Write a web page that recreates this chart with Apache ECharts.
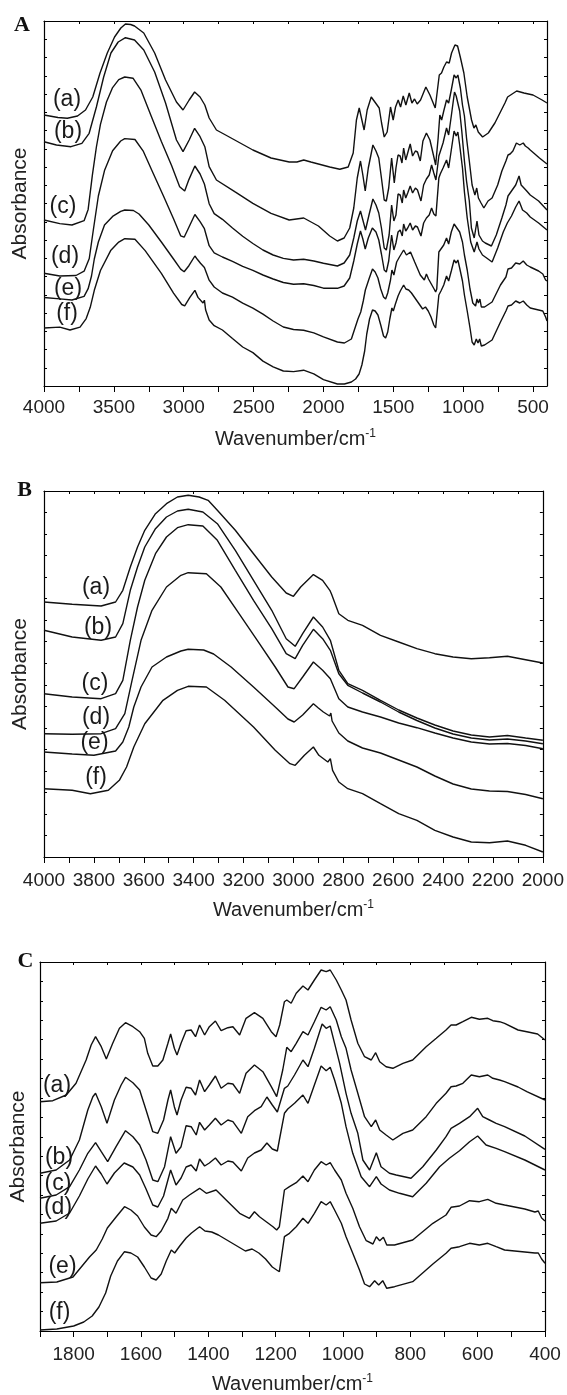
<!DOCTYPE html>
<html><head><meta charset="utf-8">
<script src="https://cdn.jsdelivr.net/npm/echarts@6/dist/echarts.min.js"></script>
<style>html,body{margin:0;padding:0;background:#fff}#c{width:567px;height:1395px}</style>
</head><body><div id="c"></div>
<script>
const curveNames = ['(a)','(b)','(c)','(d)','(e)','(f)'];
const panelNames = ['A','B','C'];

// Panel A: 4000-400 cm-1 (absorbance in arbitrary units)
const A_a = [[4000,271],[3900,268.5],[3833,267.7],[3760,270],[3703,276],[3651,289],[3599,313],[3547,333],[3495,349],[3450,358],[3417,362],[3380,361.5],[3352,360],[3286,353],[3208,333],[3130,306],[3052,284],[3005,276],[2961,286],[2922,294],[2883,289],[2849,281],[2818,268],[2766,256],[2700,251],[2635,246],[2505,236],[2375,228],[2245,224],[2190,224],[2141,226],[2090,224],[2036,222],[1955,219],[1883,216.7],[1823,219],[1787,233],[1764,266],[1744,278],[1725,266],[1709,256],[1687,276],[1658,289],[1632,284],[1601,278],[1584,263],[1565,249],[1544,254],[1520,279],[1501,266],[1484,279],[1465,286],[1448,279],[1429,290],[1410,281],[1386,293],[1367,283],[1348,287],[1329,282],[1305,286],[1267,299],[1238,291],[1200,278],[1171,311],[1155,313],[1138,319],[1119,324],[1100,323],[1083,333],[1059,341],[1040,340],[1019,328],[995,313],[971,289],[940,266],[923,258],[909,261],[892,254],[861,249],[820,253],[773,263],[701,283],[682,289],[617,295],[565,293],[500,291],[435,286],[400,283]];
const A_b = [[4000,244.3],[3911,241],[3807,239.3],[3729,242.7],[3677,252.7],[3625,279],[3573,309],[3521,333],[3469,344],[3417,348.3],[3352,346],[3286,336],[3208,314],[3130,283],[3052,246],[3005,234.3],[2961,246],[2922,257.7],[2883,249.3],[2849,239.3],[2818,219.3],[2766,206],[2635,194.3],[2505,182.7],[2375,172.7],[2245,166],[2141,168],[2036,160],[1955,150],[1900,145],[1852,148],[1812,158],[1783,178],[1758,208],[1735,225],[1718,211],[1701,195],[1679,218],[1646,241],[1624,235],[1604,228],[1585,208],[1565,186],[1550,185],[1533,198],[1512,228],[1493,203],[1481,218],[1466,231],[1451,230],[1438,223],[1426,238],[1411,226],[1397,233],[1379,242],[1362,230],[1342,235],[1327,234],[1307,225],[1288,245],[1263,253],[1238,246],[1213,231],[1197,221],[1179,248],[1167,271],[1154,266],[1139,275],[1119,286],[1104,283],[1085,296],[1065,311],[1050,308],[1038,311],[1020,298],[1005,281],[991,270],[976,248],[956,225],[936,201],[916,191],[903,198],[891,188],[872,183],[852,178],[822,185],[793,188],[753,201],[723,215],[694,225],[679,231],[664,232],[644,235],[619,243],[595,241],[570,243],[555,240],[535,238],[520,236],[454,228],[400,222]];
const A_c = [[4000,166],[3887,162.4],[3800,161],[3713,165.3],[3684,176.6],[3654,210.6],[3625,239],[3596,261.6],[3553,284],[3509,298.4],[3465,306.4],[3422,309],[3363,307.8],[3305,295.6],[3233,270],[3160,244.6],[3087,220.5],[3029,199.3],[2993,195],[2963,206.4],[2920,220],[2883,212],[2852,202],[2818,182.3],[2782,172.4],[2723,166.7],[2651,158],[2578,149.7],[2505,142.5],[2433,136],[2360,131],[2287,127.6],[2214,126],[2142,126.7],[2069,125],[2000,122.7],[1900,120],[1852,123],[1812,131],[1783,148],[1758,165],[1735,175],[1718,166],[1699,156],[1674,171],[1646,187],[1624,181],[1604,173],[1585,158],[1565,138],[1550,136],[1530,151],[1512,181],[1496,165],[1481,171],[1466,192],[1451,191],[1436,183],[1426,196],[1411,188],[1397,193],[1379,200],[1362,193],[1342,198],[1327,196],[1302,185],[1283,201],[1263,207],[1243,211],[1226,221],[1210,213],[1195,206],[1174,230],[1164,232],[1144,243],[1119,258],[1104,251],[1085,270],[1062,294],[1050,290],[1038,292],[1025,275],[1010,255],[991,225],[976,205],[956,185],[941,158],[921,148],[901,165],[887,151],[862,145],[842,143],[798,140],[763,151],[723,168],[694,181],[679,190],[654,195],[624,201],[600,210],[585,201],[565,198],[545,195],[520,191],[460,185],[400,176]];
const A_d = [[4000,112.7],[3887,110],[3771,110.5],[3713,114.8],[3676,127.5],[3647,156],[3611,190],[3567,215.4],[3509,235.2],[3451,245],[3422,247.4],[3349,246.5],[3291,235.2],[3218,212.5],[3145,190],[3073,167.2],[3022,150.2],[2997,148.8],[2963,158.7],[2920,171.5],[2883,164.4],[2852,157.3],[2818,140.3],[2782,133.2],[2723,129],[2651,124.7],[2578,119.6],[2505,115.6],[2433,111],[2360,107],[2287,103.5],[2214,101.8],[2142,102.2],[2069,100.5],[2000,97.8],[1900,97.7],[1852,100],[1812,108],[1783,125],[1758,142],[1735,155],[1718,147],[1701,137],[1679,148],[1650,158],[1624,154],[1604,146],[1585,132],[1565,116],[1550,114],[1533,125],[1512,151],[1496,136],[1481,143],[1466,154],[1451,156],[1436,150],[1426,162],[1411,155],[1397,158],[1379,163],[1362,156],[1342,160],[1327,159],[1302,150],[1283,163],[1263,168],[1243,171],[1226,178],[1210,172],[1195,170],[1189,181],[1174,208],[1164,212],[1144,218],[1119,226],[1104,218],[1085,236],[1065,255],[1050,250],[1038,254],[1025,241],[1005,218],[991,194],[971,168],[946,144],[921,134],[901,144],[887,137],[862,131],[832,128],[793,124],[753,138],[713,154],[684,163],[654,170],[624,179],[600,185],[575,176],[545,173],[520,169],[460,163],[400,156]];
const A_e = [[4000,88.5],[3887,87.1],[3800,86],[3713,89.7],[3684,97.3],[3660,110],[3640,127],[3611,144],[3567,161],[3509,169.6],[3451,174.7],[3422,176],[3360,175.5],[3320,172],[3250,161],[3160,144],[3073,127],[3022,116.9],[2997,114.3],[2963,120.3],[2920,130],[2900,126.2],[2880,122.8],[2852,118.6],[2845,116.9],[2818,105.8],[2782,99],[2723,93],[2651,88.8],[2578,82.9],[2505,77.8],[2433,71.8],[2360,65],[2287,59],[2214,56.5],[2142,55.7],[2069,53.1],[2000,49.1],[1900,44],[1850,43],[1800,47],[1753,67],[1733,74],[1715,85],[1700,96],[1674,107],[1649,117],[1630,114],[1610,108],[1590,97],[1570,89],[1555,87],[1540,93],[1520,106],[1510,116],[1496,111],[1476,124],[1456,129],[1426,136],[1406,131],[1377,134],[1347,124],[1307,111],[1278,106],[1263,112],[1248,107],[1208,97],[1197,94],[1189,97],[1174,134],[1159,137],[1139,141],[1119,148],[1104,142],[1085,154],[1065,162],[1050,159],[1038,161],[1025,154],[1005,144],[991,131],[971,116],[951,97],[931,83],[911,80],[901,87],[891,83],[880,87],[870,79],[847,79],[793,84],[733,101],[694,109],[679,117],[654,118],[624,123],[595,122],[570,125],[545,121],[520,119],[460,115],[430,112],[420,113],[410,106],[400,105]];
const A_f = [[4000,58],[3887,58.9],[3814,56],[3742,58.9],[3698,67.4],[3669,78.7],[3640,95.7],[3596,115.5],[3523,135.4],[3465,143.9],[3422,147.3],[3349,146.7],[3276,135.4],[3160,112.7],[3073,92.9],[3014,81.5],[2993,80.1],[2956,88.6],[2920,95.7],[2898,88.6],[2862,83],[2852,85.8],[2843,75.9],[2818,66],[2782,60.3],[2723,56],[2651,47.5],[2578,39],[2505,33.4],[2433,24.9],[2360,19.2],[2287,15],[2214,14.4],[2142,15.8],[2069,12.1],[2000,6.4],[1900,2],[1850,2],[1800,4],[1770,7],[1745,12],[1725,21],[1705,35],[1690,52],[1670,67],[1649,76],[1630,75],[1610,71],[1590,61],[1570,50],[1555,48],[1540,54],[1525,67],[1510,78],[1500,75],[1485,82],[1466,90],[1450,95],[1426,101],[1410,97],[1390,96],[1370,93],[1350,89],[1330,85],[1310,81],[1290,77],[1270,79],[1250,75],[1230,69],[1210,61],[1197,58],[1189,56],[1174,91],[1159,95],[1139,101],[1119,110],[1104,105],[1085,115],[1065,126],[1050,123],[1038,126],[1025,118],[1005,105],[991,91],[971,75],[951,58],[936,44],[921,41],[906,47],[894,43],[882,47],[870,40],[847,41],[793,46],[733,64],[694,75],[679,80],[654,81],[624,85],[595,83],[570,85],[545,81],[520,78],[460,76],[430,75],[420,75],[410,69],[400,65]];

// Panel B: 4000-2000 cm-1
const B_a = [[4000,255],[3887,252.7],[3771,251],[3713,255],[3684,266.7],[3654,290],[3625,310],[3596,326.7],[3553,343.3],[3509,353.3],[3465,360],[3422,361.7],[3378,360],[3342,356.7],[3305,346.7],[3233,326.7],[3160,303.3],[3087,280],[3029,264],[3000,260.7],[2971,270],[2920,282.4],[2883,276.7],[2854,266.7],[2847,262.7],[2818,243.3],[2782,236.7],[2723,231.7],[2651,221.7],[2578,215],[2505,208.3],[2433,203.3],[2360,200],[2287,198.3],[2214,199.3],[2142,200.7],[2069,197.3],[2000,194]];
const B_b = [[4000,226.7],[3887,220],[3771,216.7],[3713,220],[3684,233.3],[3654,266.7],[3625,290],[3596,310],[3553,328.3],[3509,340],[3465,346],[3422,347.7],[3363,345],[3305,333.3],[3233,306.7],[3160,276.7],[3087,246.7],[3029,218.3],[2993,210.7],[2963,223.3],[2920,240],[2883,230],[2852,216.7],[2818,186.7],[2782,173.3],[2723,166.7],[2651,156.7],[2578,147],[2505,139],[2433,132],[2360,126],[2287,122],[2214,120],[2142,121.5],[2069,119],[2000,116.7]];
const B_c = [[4000,163.3],[3887,160],[3771,158.3],[3713,163.3],[3684,176.7],[3654,216.7],[3625,250],[3596,276.7],[3553,303.3],[3509,320],[3465,329.3],[3422,332.3],[3363,331],[3305,316.7],[3233,286.7],[3160,256.7],[3087,228.3],[3029,203.3],[2993,198.3],[2963,211.7],[2920,227.7],[2883,218.3],[2852,206.7],[2818,183.3],[2782,171.7],[2723,164],[2651,155],[2578,145],[2505,136.5],[2433,129],[2360,123],[2287,119],[2214,117],[2142,118],[2069,116],[2000,113.3]];
const B_d = [[4000,123.3],[3887,122.7],[3771,123.3],[3713,128.3],[3676,143.3],[3647,176.7],[3611,216.7],[3567,246.7],[3509,270],[3451,281.7],[3422,284.3],[3349,283.3],[3291,270],[3218,243.3],[3145,216.7],[3073,190],[3022,170],[2997,168.3],[2963,180],[2920,195],[2883,186.7],[2852,178.3],[2818,158.3],[2782,150],[2723,145],[2651,140],[2578,134],[2505,129.3],[2433,124],[2360,119],[2287,115],[2214,113],[2142,113.5],[2069,111.5],[2000,108.3]];
const B_e = [[4000,105],[3887,103],[3800,101.7],[3713,106],[3684,115],[3660,130],[3640,150],[3611,170],[3567,190],[3509,200],[3451,206],[3422,207.7],[3360,207],[3320,203],[3250,190],[3160,170],[3073,150],[3022,138],[2997,135],[2963,142],[2920,153.3],[2900,149],[2880,145],[2855,141],[2850,144],[2845,136],[2818,124],[2782,116],[2723,109],[2651,104],[2578,97],[2505,90],[2433,81],[2360,73],[2287,68],[2214,66],[2142,65.5],[2069,62.5],[2000,58.3]];
const B_f = [[4000,68.3],[3887,66.7],[3814,63.3],[3742,66.7],[3698,76.7],[3669,90],[3640,110],[3596,133.3],[3523,156.7],[3465,166.7],[3422,170.7],[3349,170],[3276,156.7],[3160,130],[3073,106.7],[3014,93.3],[2993,91.7],[2956,101.7],[2920,110],[2898,101.7],[2862,95],[2852,98.3],[2843,86.7],[2818,75],[2782,68.3],[2723,63.3],[2651,53.3],[2578,43.3],[2505,36.7],[2433,26.7],[2360,20],[2287,15],[2214,14.3],[2142,16],[2069,11.7],[2000,5]];

// Panel C: 1900-400 cm-1
const C_a = [[1900,229.3],[1862,230.3],[1822,236],[1793,247.7],[1763,271],[1748,286],[1735,294.3],[1718,284.3],[1703,272],[1684,287.7],[1664,302.7],[1646,308.3],[1624,304.3],[1604,299.3],[1590,292.7],[1580,277.7],[1565,265],[1550,265],[1535,271],[1520,287.7],[1512,297],[1501,282.7],[1493,276],[1481,287.7],[1466,300.3],[1451,301],[1438,294.3],[1426,306],[1411,296],[1397,304.3],[1379,310],[1362,300.3],[1342,303.3],[1327,304.3],[1307,296],[1288,312.7],[1263,318.3],[1238,312.7],[1213,299.3],[1199,294.3],[1188,306],[1174,329.3],[1167,331],[1154,327.7],[1139,337.7],[1119,345],[1104,341],[1085,351],[1065,361],[1050,359.3],[1038,361],[1020,351],[1005,341],[991,331],[976,311],[956,287.7],[936,274.3],[916,271],[903,278.3],[891,269.3],[872,264.3],[852,262.7],[822,267.7],[793,271],[753,284.3],[723,292.7],[694,301],[679,306],[664,306],[644,309.3],[619,313.7],[595,311.7],[570,312.7],[555,310.3],[535,309.3],[520,307.7],[480,301],[454,299.3],[422,297],[400,291]];
const C_b = [[1900,157.7],[1852,161],[1812,171],[1783,191],[1758,221],[1743,234.3],[1735,237.7],[1718,224.3],[1701,207.7],[1679,231],[1659,246],[1646,253.7],[1624,248.3],[1604,241],[1585,221],[1565,199.3],[1550,197.7],[1533,211],[1520,231],[1512,241],[1501,224.3],[1493,216],[1481,231],[1466,243.7],[1451,242.7],[1438,236],[1426,251],[1411,239.3],[1397,246],[1379,255],[1362,242.7],[1342,247.7],[1327,247],[1307,237.7],[1288,257.7],[1263,266],[1238,259.3],[1213,244.3],[1197,234.3],[1179,261],[1167,283.7],[1154,279.3],[1139,287.7],[1119,299.3],[1104,296],[1085,309.3],[1065,323.7],[1050,321],[1038,324.3],[1020,311],[1005,294.3],[991,282.7],[976,261],[956,237.7],[936,214.3],[916,204.3],[903,211],[891,201],[872,196],[852,191],[822,197.7],[793,201],[753,214.3],[723,227.7],[694,237.7],[679,244.3],[664,245],[644,247.7],[619,256],[595,254.3],[570,256],[555,252.7],[535,251],[520,249.3],[480,244],[454,239.3],[400,231]];
const C_c = [[1900,132.7],[1852,136],[1812,144.3],[1783,161],[1758,177.7],[1735,188.3],[1718,179.3],[1699,169.3],[1674,184.3],[1646,200.3],[1624,194.3],[1604,186],[1585,171],[1565,151],[1550,149.3],[1530,164.3],[1512,194.3],[1496,177.7],[1481,184.3],[1466,205.3],[1451,204.3],[1436,196],[1426,208.7],[1411,201],[1397,206],[1379,212.7],[1362,206],[1342,211],[1327,209.3],[1302,197.7],[1283,214.3],[1263,220.3],[1243,224.3],[1226,234],[1210,226],[1195,219],[1174,242.7],[1164,245],[1144,256],[1119,271],[1104,264.3],[1085,282.7],[1062,307],[1050,302.7],[1038,305],[1025,287.7],[1010,267.7],[991,237.7],[976,217.7],[956,197.7],[941,171],[921,161],[901,178.3],[887,164.3],[862,157.7],[842,156],[798,152.7],[763,164.3],[723,181],[694,194.3],[679,202.7],[654,207.7],[624,214.3],[600,222.7],[585,214.3],[565,211],[545,207.7],[520,204.3],[460,195],[400,181.7]];
const C_d = [[1900,107.7],[1852,110],[1812,118],[1783,135],[1758,152],[1735,165],[1718,157],[1701,147],[1679,158],[1650,168],[1624,164],[1604,156],[1585,142],[1565,126],[1550,124],[1533,135],[1512,161],[1496,146],[1481,153],[1466,164],[1451,166],[1436,160],[1426,172],[1411,165],[1397,168],[1379,173],[1362,166],[1342,170],[1327,169],[1302,160],[1283,173],[1263,178],[1243,181],[1226,188],[1210,182],[1195,180],[1189,191],[1174,217.7],[1164,222],[1144,227.7],[1119,236],[1104,227.7],[1085,246],[1065,265],[1050,260.3],[1038,263.7],[1025,251],[1005,227.7],[991,204.3],[971,177.7],[946,154.3],[921,144.3],[901,154.3],[887,147],[862,141],[832,137.7],[793,134.3],[753,147.7],[713,164.3],[684,172.7],[654,180.3],[624,189.3],[600,195],[575,186],[545,182.7],[520,179.3],[460,171],[400,161]];
const C_e = [[1900,48.3],[1850,49],[1802,54],[1753,74],[1733,81],[1715,92],[1700,103],[1674,114],[1649,124.3],[1630,121],[1610,115],[1590,104],[1570,96],[1555,94.3],[1540,100],[1520,112.7],[1510,122.7],[1496,117.7],[1476,131],[1456,136],[1426,142.7],[1406,137.7],[1377,141],[1347,131],[1307,117.7],[1278,112.7],[1263,119.3],[1248,114.3],[1208,104.3],[1197,101],[1189,104.3],[1174,141],[1159,144.3],[1139,148.3],[1119,155],[1104,149.3],[1085,161],[1065,169.3],[1050,166],[1038,168.3],[1025,161],[1005,151],[991,137.7],[971,122.7],[951,104.3],[931,90.3],[911,87],[901,94.3],[891,90.3],[880,93.7],[870,86],[847,86],[793,91],[733,107.7],[694,116],[679,123.7],[654,125],[624,130.3],[595,129.3],[570,131.7],[545,127.7],[520,126],[460,122],[430,119],[420,120],[410,113],[400,110]];
const C_f = [[1900,1],[1850,2],[1800,5],[1770,9],[1745,15],[1725,24],[1705,38],[1690,55],[1670,70],[1649,79.3],[1630,78],[1610,74],[1590,64],[1570,53],[1555,51],[1540,57],[1525,70],[1510,81],[1500,78],[1485,85],[1466,93],[1450,98],[1426,104.3],[1410,100],[1390,99],[1370,96],[1350,92],[1330,88],[1310,84],[1290,80],[1270,82],[1250,78],[1230,72],[1210,64],[1197,61],[1189,59.3],[1174,94.3],[1159,97.7],[1139,104.3],[1119,112.7],[1104,107.7],[1085,117.7],[1065,129.3],[1050,126],[1038,129.3],[1025,121],[1005,107.7],[991,94.3],[971,77.7],[951,61],[936,47],[921,44.3],[906,50.3],[894,46],[882,50.3],[870,42.7],[847,44.3],[793,49.3],[733,67],[694,77.7],[679,82.7],[654,84.3],[624,87.7],[595,86],[570,87.7],[545,84.3],[520,81],[460,79],[430,78],[420,78],[410,72],[400,67.7]];

// Axis ticks and labels
const ticksA = [4000,3750,3500,3250,3000,2750,2500,2250,2000,1750,1500,1250,1000,750,500];
const labelsA = [4000,3500,3000,2500,2000,1500,1000,500];
const ticksB = [4000,3900,3800,3700,3600,3500,3400,3300,3200,3100,3000,2900,2800,2700,2600,2500,2400,2300,2200,2100,2000];
const labelsB = [4000,3800,3600,3400,3200,3000,2800,2600,2400,2200,2000];
const ticksC = [1900,1800,1700,1600,1500,1400,1300,1200,1100,1000,900,800,700,600,500,400];
const labelsC = [1800,1600,1400,1200,1000,800,600,400];

const panels = [
  {curves:[A_a,A_b,A_c,A_d,A_e,A_f], xmin:400, xmax:4000, ticks:ticksA, labels:labelsA,
   grid:{left:44, top:21, width:503, height:365}, ymax:365, ny:20, lblMargin:12,
   names:[[67,100],[68,131.7],[63,206.7],[65,256.7],[68,288.3],[67,314]], letter:[22,25], absX:13},
  {curves:[B_a,B_b,B_c,B_d,B_e,B_f], xmin:2000, xmax:4000, ticks:ticksB, labels:labelsB,
   grid:{left:44, top:491, width:500, height:366}, ymax:366, ny:17, lblMargin:14,
   names:[[96,588],[98,627.5],[95,684],[96,718],[94.5,743],[96,778]], letter:[24.5,490.5], absX:13},
  {curves:[C_a,C_b,C_c,C_d,C_e,C_f], xmin:400, xmax:1900, ticks:ticksC, labels:labelsC,
   grid:{left:40, top:962, width:505, height:369}, ymax:369, ny:19, lblMargin:14,
   names:[[57,1086],[59,1157.5],[58,1184],[58,1208],[62.5,1266.7],[59.5,1313]], letter:[25.5,961.7], absX:11}
];

const FONT = 'Liberation Sans, Arial, Helvetica, sans-serif';
const AX = {color:'#000', width:1.2};
const grids = [], xAxes = [], yAxes = [], series = [], graphics = [];

panels.forEach((p, i) => {
  grids.push(Object.assign({containLabel:false}, p.grid));
  const iv = p.ymax / p.ny;
  xAxes.push({
    type:'value', gridIndex:i, position:'bottom', inverse:true, min:p.xmin, max:p.xmax,
    axisLine:{show:true, onZero:false, lineStyle:AX},
    axisTick:{show:true, inside:false, length:6, customValues:p.ticks, lineStyle:{color:'#000', width:1}},
    axisLabel:{show:true, customValues:p.labels, margin:p.lblMargin, fontSize:19, color:'#222', fontFamily:FONT,
      formatter:function(v){ return String(v); }},
    splitLine:{show:false},
    name:'Wavenumber/cm{sup|-1}', nameLocation:'middle', nameGap:42,
    nameTextStyle:{fontSize:20, color:'#222', fontFamily:FONT,
      rich:{sup:{fontSize:12, color:'#222', fontFamily:FONT, verticalAlign:'top', lineHeight:22}}}
  });
  xAxes.push({
    type:'value', gridIndex:i, position:'top', inverse:true, min:p.xmin, max:p.xmax,
    axisLine:{show:true, onZero:false, lineStyle:AX},
    axisTick:{show:true, inside:true, length:3, customValues:p.ticks, lineStyle:{color:'#000', width:1}},
    axisLabel:{show:false}, splitLine:{show:false}
  });
  yAxes.push({
    type:'value', gridIndex:i, position:'left', min:0, max:p.ymax, interval:iv,
    axisLine:{show:true, onZero:false, lineStyle:AX},
    axisTick:{show:true, inside:true, length:3, lineStyle:{color:'#000', width:1}},
    axisLabel:{show:false}, splitLine:{show:false},
    name:'Absorbance', nameLocation:'middle', nameRotate:90, nameGap:p.absX,
    nameTextStyle:{fontSize:21, color:'#222', fontFamily:FONT}
  });
  yAxes.push({
    type:'value', gridIndex:i, position:'right', min:0, max:p.ymax, interval:iv,
    axisLine:{show:true, onZero:false, lineStyle:AX},
    axisTick:{show:true, inside:true, length:3, lineStyle:{color:'#000', width:1}},
    axisLabel:{show:false}, splitLine:{show:false}
  });
  p.curves.forEach((d, k) => {
    series.push({
      type:'line', name:panelNames[i] + curveNames[k], xAxisIndex:2*i, yAxisIndex:2*i,
      data:d, showSymbol:false, symbol:'none', silent:true,
      lineStyle:{color:'#111', width:1.4}
    });
    graphics.push({type:'text', x:p.names[k][0], y:p.names[k][1],
      style:{text:curveNames[k], fontSize:23, fontFamily:FONT, fill:'#1a1a1a', align:'center', verticalAlign:'middle'}});
  });
  graphics.push({type:'text', x:p.letter[0], y:p.letter[1],
    style:{text:panelNames[i], fontSize:22, fontWeight:'bold', fontFamily:'Liberation Serif, Times New Roman, serif', fill:'#111', align:'center', verticalAlign:'middle'}});
});

const chart = echarts.init(document.getElementById('c'), null, {renderer:'canvas'});
chart.setOption({
  animation:false,
  backgroundColor:'#fff',
  grid:grids, xAxis:xAxes, yAxis:yAxes, series:series, graphic:graphics
});
</script>
</body></html>
